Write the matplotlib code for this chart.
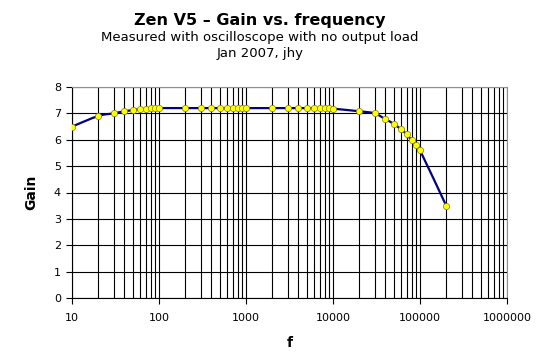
import numpy as np
import matplotlib
matplotlib.use("Agg")
import matplotlib.pyplot as plt
from matplotlib.path import Path
from matplotlib.patches import PathPatch

# measured points
freq = [10, 20, 30, 40, 50, 60, 70, 80, 90, 100,
        200, 300, 400, 500, 600, 700, 800, 900, 1000,
        2000, 3000, 4000, 5000, 6000, 7000, 8000, 9000, 10000,
        20000, 30000, 40000, 50000, 60000, 70000, 80000, 90000, 100000,
        200000]
gain = [6.5, 6.9, 7.0, 7.08, 7.12, 7.16, 7.17, 7.19, 7.19, 7.2,
        7.2, 7.2, 7.2, 7.2, 7.2, 7.2, 7.2, 7.2, 7.2,
        7.2, 7.2, 7.2, 7.2, 7.2, 7.2, 7.2, 7.2, 7.18,
        7.08, 7.0, 6.78, 6.6, 6.4, 6.21, 5.98, 5.79, 5.6,
        3.5]

xticks = [10, 100, 1000, 10000, 100000, 1000000]
yticks = [0, 1, 2, 3, 4, 5, 6, 7, 8]

fig = plt.figure(figsize=(5.41, 3.55), dpi=100)
ax = fig.add_axes([72/541, 1 - 298/355, (507 - 72)/541, (298 - 87)/355])

ax.set_xscale("log")
ax.set_xlim(10, 1000000)
ax.set_ylim(0, 8)

# smoothed line like Excel: catmull-rom in log-x space -> bezier path
lx = np.log10(freq)
gy = np.array(gain)
verts = [(freq[0], gain[0])]
codes = [Path.MOVETO]
n = len(lx)
for i in range(n - 1):
    p0 = (lx[max(i - 1, 0)], gy[max(i - 1, 0)])
    p1 = (lx[i], gy[i])
    p2 = (lx[i + 1], gy[i + 1])
    p3 = (lx[min(i + 2, n - 1)], gy[min(i + 2, n - 1)])
    c1 = (p1[0] + (p2[0] - p0[0]) / 6, p1[1] + (p2[1] - p0[1]) / 6)
    c2 = (p2[0] - (p3[0] - p1[0]) / 6, p2[1] - (p3[1] - p1[1]) / 6)
    for c in (c1, c2, p2):
        verts.append((10 ** c[0], c[1]))
        codes.append(Path.CURVE4)
ax.add_patch(PathPatch(Path(verts, codes), facecolor="none",
                       edgecolor="#000080", lw=1.6, zorder=3))
ax.plot(freq, gain, ls="none", marker="o", ms=4.5, mfc="#ffff00",
        mec="#808000", mew=0.5, zorder=4)

ax.set_xticks(xticks)
ax.set_xticklabels([str(t) for t in xticks])
ax.set_yticks(yticks)
ax.grid(True, which="major", color="black", lw=0.8)
ax.grid(True, which="minor", axis="x", color="black", lw=0.8)
ax.tick_params(axis="x", which="minor", length=0)
ax.tick_params(axis="both", which="major", direction="out", length=4,
               width=0.8, labelsize=8, colors="black", pad=7)
ax.tick_params(axis="y", pad=4)

for s in ["top", "right"]:
    ax.spines[s].set_color("#909090")
for s in ["left", "bottom"]:
    ax.spines[s].set_color("black")
    ax.spines[s].set_linewidth(0.8)

ax.set_xlabel("f", fontsize=10, fontweight="bold", labelpad=9)
fig.text(31/541, 1 - 192/355, "Gain", fontsize=10, fontweight="bold",
         rotation=90, ha="center", va="center")

fig.text(260/541, 1 - 21/355, "Zen V5 \u2013 Gain vs. frequency",
         fontsize=11.5, fontweight="bold", ha="center", va="center")
fig.text(260/541, 1 - 38/355, "Measured with oscilloscope with no output load",
         fontsize=9.5, ha="center", va="center")
fig.text(260/541, 1 - 53/355, "Jan 2007, jhy",
         fontsize=9.5, ha="center", va="center")

fig.savefig("out.png", dpi=100, facecolor="white")
